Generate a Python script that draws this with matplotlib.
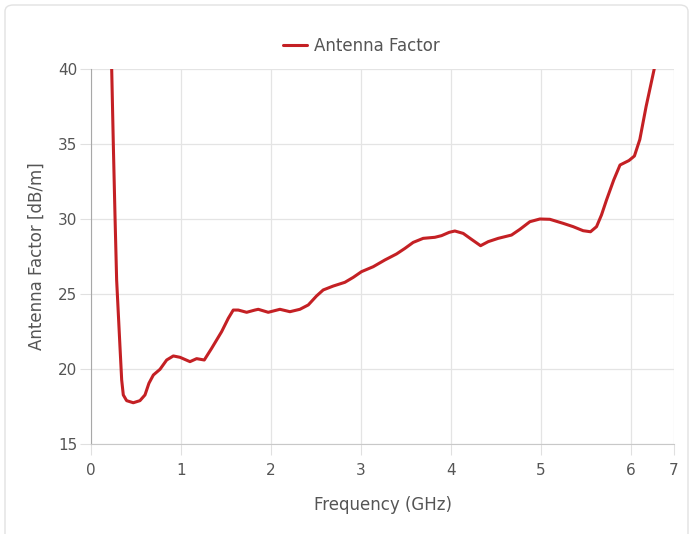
import matplotlib.pyplot as plt
from matplotlib.patches import FancyBboxPatch

# valeurs (GHz, dB/m)
freq_ghz = [0.22, 0.23, 0.248, 0.267, 0.285, 0.322, 0.341, 0.359, 0.396, 0.47,
            0.544, 0.60, 0.644, 0.693, 0.767, 0.841, 0.915, 0.989, 1.10, 1.174,
            1.259, 1.341, 1.452, 1.526, 1.581, 1.637, 1.73, 1.822, 1.859, 1.97,
            2.10, 2.211, 2.322, 2.415, 2.507, 2.581, 2.692, 2.822, 2.915, 3.007,
            3.137, 3.267, 3.396, 3.489, 3.581, 3.692, 3.822, 3.896, 3.981, 4.044,
            4.137, 4.23, 4.33, 4.415, 4.526, 4.674, 4.767, 4.878, 4.989, 5.10,
            5.248, 5.359, 5.47, 5.552, 5.619, 5.674, 5.73, 5.81, 5.88, 5.98,
            6.04, 6.10, 6.17, 6.26, 6.29]
antenna_factor = [42.5, 40.0, 35.0, 30.15, 25.93, 21.49, 19.27, 18.27, 17.89, 17.75,
                  17.89, 18.27, 19.05, 19.6, 19.98, 20.6, 20.87, 20.78, 20.49, 20.69,
                  20.6, 21.38, 22.49, 23.38, 23.93, 23.93, 23.78, 23.93, 23.98, 23.78,
                  23.98, 23.82, 23.98, 24.27, 24.87, 25.27, 25.53, 25.78, 26.11, 26.49,
                  26.82, 27.27, 27.67, 28.04, 28.44, 28.71, 28.78, 28.89, 29.11, 29.2,
                  29.04, 28.64, 28.22, 28.49, 28.71, 28.93, 29.31, 29.82, 30.0, 29.98,
                  29.71, 29.49, 29.22, 29.15, 29.49, 30.27, 31.27, 32.6, 33.6, 33.9,
                  34.2, 35.3, 37.5, 40.0, 41.0]

x_ticks = [0, 1, 2, 3, 4, 5, 6, 6.48]
x_tick_labels = ['0', '1', '2', '3', '4', '5', '6', '7']
y_ticks = [15, 20, 25, 30, 35, 40]

text_color = '#555555'
line_color = '#c42024'

plt.rcParams['font.family'] = ['DejaVu Sans']

fig = plt.figure(figsize=(6.92, 5.34), dpi=100)

# cadre arrondi autour du graphique
frame = FancyBboxPatch((5 / 692, -0.05), 683 / 692, 1.0 - 5 / 534 + 0.05,
                       boxstyle='round,pad=0,rounding_size=0.012',
                       transform=fig.transFigure, facecolor='none',
                       edgecolor='#e2e2e2', linewidth=1.0, zorder=-1)
fig.patches.append(frame)

ax = fig.add_axes([91 / 692, 1 - 444 / 534, 583 / 692, 375 / 534])
ax.set_facecolor('none')

ax.plot(freq_ghz, antenna_factor, color=line_color, linewidth=2.2,
        solid_joinstyle='round', solid_capstyle='round', label='Antenna Factor')

ax.set_xlim(0, 6.48)
ax.set_ylim(15, 40)
ax.set_xticks(x_ticks)
ax.set_xticklabels(x_tick_labels)
ax.set_yticks(y_ticks)

ax.grid(True, color='#e4e4e4', linewidth=0.9)
ax.set_axisbelow(True)
for side in ['top', 'right']:
    ax.spines[side].set_visible(False)
ax.spines['left'].set_color('#a8a8a8')
ax.spines['bottom'].set_color('#c8c8c8')
ax.tick_params(axis='both', length=8, color='#e0e0e0', colors=text_color,
               labelsize=11, pad=2)
ax.tick_params(axis='x', pad=6)

ax.set_xlabel('Frequency (GHz)', fontsize=12, color=text_color, labelpad=13)
ax.set_ylabel('Antenna Factor [dB/m]', fontsize=12, color=text_color, labelpad=9)

fig.legend(loc='center', bbox_to_anchor=(361 / 692, 1 - 46 / 534), frameon=False,
           fontsize=12, labelcolor=text_color, handlelength=1.45, handletextpad=0.4)

fig.savefig('out.png', dpi=100)
